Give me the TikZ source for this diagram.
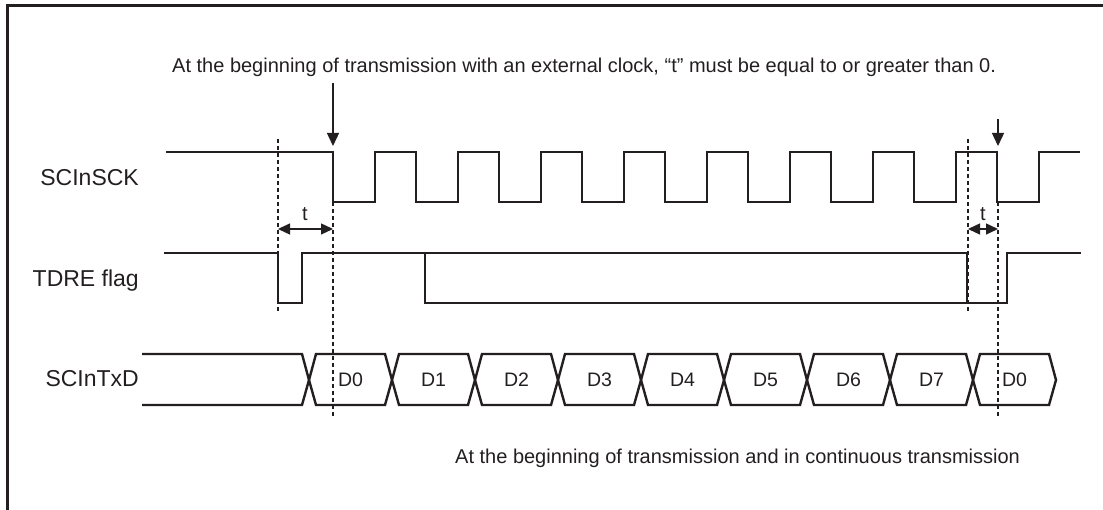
\documentclass[tikz,border=0pt]{standalone}
\usepackage{fontspec}
\setmainfont{Liberation Sans}
\usetikzlibrary{arrows.meta}
\definecolor{ink}{HTML}{231F20}

\begin{document}
\begin{tikzpicture}[
        x=1pt, y=-1pt,
        font=\fontsize{20}{24}\selectfont,
        every node/.style={text=ink, inner sep=0pt},
        border/.style={draw=ink, line width=3pt},
        wave/.style={draw=ink, line width=2.4pt, line join=miter},
        guide/.style={draw=ink, line width=1.2pt, dash pattern=on 4pt off 3pt},
        signame/.style={anchor=base east, font=\fontsize{23}{27}\selectfont},
        bit/.style={font=\fontsize{19.5}{23}\selectfont},
        marker/.style={-{Triangle[length=13pt, width=12pt]}, draw=ink, line width=1.4pt},
        tspan/.style={{Triangle[length=12pt, width=11pt]}-{Triangle[length=12pt, width=11pt]}, draw=ink, line width=1.4pt}
    ]
        \useasboundingbox (0,0) rectangle (1103,510);
        \draw [border] (7,510) -- (7,6) -- (1103,6);

        % Nodes
        \node [anchor=base west] (note) at (172,73) {At the beginning of transmission with an external clock, “t” must be equal to or greater than 0.};
        \node [signame] (sck) at (139,186) {SCInSCK};
        \node [signame] (tdre) at (139,287) {TDRE flag};
        \node [signame] (txd) at (139,387) {SCInTxD};
        \node [anchor=base] (tA) at (305,221) {t};
        \node [anchor=base] (tB) at (983,221) {t};
        \node [anchor=base west] (caption) at (455,463) {At the beginning of transmission and in continuous transmission};

        \coordinate (startA) at (333,83);
        \coordinate (edgeA) at (333,146);
        \coordinate (startB) at (998,119);
        \coordinate (edgeB) at (998,146);
        \coordinate (flagA) at (278,229);
        \coordinate (clkA) at (333,229);
        \coordinate (flagB) at (968,229);
        \coordinate (clkB) at (998,229);

        % Waveforms
        \draw [wave] (166,152) -- (333,152)
            \foreach \k in {0,...,8} { -- ++(0,50) -- ++(42,0) -- ++(0,-50) -- ++(41,0) };
        \draw [wave] (164,253) -- (278,253) -- (278,303) -- (302,303) -- (302,253) -- (967,253) -- (967,303);
        \draw [wave] (425,253) -- (425,303) -- (1007,303) -- (1007,253) -- (1081,253);
        \draw [wave] (142,354) -- (302,354) -- (309,380) -- (302,405) -- (142,405);
        \foreach \k/\d in {0/D0,1/D1,2/D2,3/D3,4/D4,5/D5,6/D6,7/D7,8/D0} {
            \pgfmathsetmacro{\c}{309+83*\k}
            \draw [wave] (\c,380) -- (\c+7,354) -- (\c+76,354) -- (\c+83,380) -- (\c+76,405) -- (\c+7,405) -- cycle;
            \node [bit] (bit\k) at (\c+41.5,380) {\d};
        }

        % Guides
        \draw [guide] (278,139) -- (278,312);
        \draw [guide] (333,202) -- (333,418);
        \draw [guide] (968,139) -- (968,312);
        \draw [guide] (998,202) -- (998,418);

        % Edges
        \draw [marker] (startA) -- (edgeA);
        \draw [marker] (startB) -- (edgeB);
        \draw [tspan] (flagA) -- (clkA);
        \draw [tspan] (flagB) -- (clkB);

    \end{tikzpicture}
\end{document}
